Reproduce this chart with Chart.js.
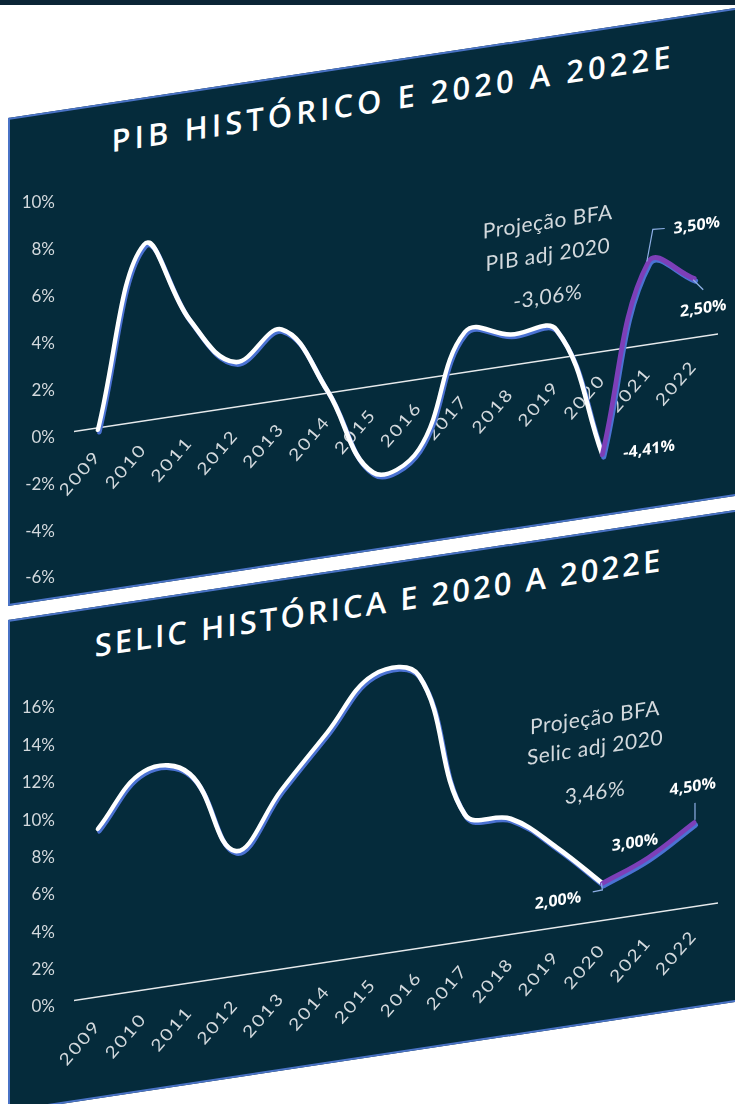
<!DOCTYPE html>
<html lang="pt">
<head>
    <meta charset="UTF-8">
    <title>PIB e Selic histórico e 2020 a 2022E</title>
    <script src="https://cdn.jsdelivr.net/npm/chart.js"></script>
    <style>
        body {
            margin: 0;
            width: 735px;
            height: 1104px;
            overflow: hidden;
            position: relative;
            background: #ffffff;
            font-family: 'Open Sans', sans-serif;
        }
        .topbar {
            position: absolute;
            left: 0;
            top: 0;
            width: 735px;
            height: 5px;
            background: #0b2536;
        }
        .panel {
            position: absolute;
            left: 8px;
            width: 760px;
            box-sizing: border-box;
            background: #052b3b;
            border: 2px solid #4a73c6;
            border-right: none;
            transform: skewY(-8.6deg);
            transform-origin: 0 0;
        }
        #panelPib { top: 118px; height: 488px; }
        #panelSelic { top: 620px; height: 492px; }
        .panel h2 {
            position: absolute;
            top: 21px;
            margin: 0;
            color: #ffffff;
            font: 600 31px/31px 'Open Sans', sans-serif;
            white-space: nowrap;
            transform: translateX(-50%);
        }
        #panelPib h2 { left: 383px; letter-spacing: 4px; }
        #panelSelic h2 { left: 369px; letter-spacing: 3px; }
        canvas { position: absolute; left: 0; }
        #pibChart { top: 0; }
        #selicChart { top: 600px; }
    </style>
</head>
<body>
<div class="topbar"></div>
<div class="panel" id="panelPib"><h2>PIB HISTÓRICO E 2020 A 2022E</h2></div>
<div class="panel" id="panelSelic"><h2>SELIC HISTÓRICA E 2020 A 2022E</h2></div>

<canvas id="pibChart" width="735" height="612"></canvas>
<canvas id="selicChart" width="735" height="504"></canvas>

<script>
    // data
    const years = ['2009', '2010', '2011', '2012', '2013', '2014', '2015',
                   '2016', '2017', '2018', '2019', '2020', '2021', '2022'];

    const pibHistorico = [-0.1, 7.5, 4.0, 1.9, 3.0, 0.1, -3.7, -3.0, 1.7, 1.3, 1.2, -4.41, null, null];
    const pibProjecao  = [null, null, null, null, null, null, null, null, null, null, null, -4.41, 3.5, 2.5];
    const pibTicks = [-6, -4, -2, 0, 2, 4, 6, 8, 10];

    const selicHistorica = [9.0, 11.7, 11.2, 6.7, 9.6, 12.3, 15.0, 14.6, 6.8, 6.2, 4.3, 2.0, null, null];
    const selicProjecao  = [null, null, null, null, null, null, null, null, null, null, null, 2.0, 3.0, 4.5];
    const selicTicks = [0, 2, 4, 6, 8, 10, 12, 14, 16];

    // the whole picture is skewed; y labels stay flat
    const SKEW = 0.1512;
    const SKEW_X0 = 32;
    function skew(ctx) {
        ctx.transform(1, -SKEW, 0, 1, 0, SKEW * SKEW_X0);
    }

    class SkewCategoryScale extends Chart.CategoryScale {
        draw(area) {
            const ctx = this.ctx;
            ctx.save();
            skew(ctx);
            ctx.letterSpacing = '2px';
            super.draw(area);
            ctx.restore();
        }
    }
    SkewCategoryScale.id = 'skewcat';
    SkewCategoryScale.defaults = Chart.CategoryScale.defaults;
    Chart.register(SkewCategoryScale);

    const LIGHT = '#d3d9dd';

    // notes: text placed in data units (category index, value)
    function decor(notes, leaders) {
        return {
            id: 'decor',
            beforeDatasetsDraw(chart) {
                const ctx = chart.ctx;
                ctx.save();
                skew(ctx);
                ctx.shadowColor = '#4b72d3';
                ctx.shadowOffsetX = 1.5;
                ctx.shadowOffsetY = 2.5;
                ctx.shadowBlur = 0.5;
            },
            afterDatasetsDraw(chart) {
                const ctx = chart.ctx;
                ctx.restore();
                const xs = chart.scales.x, ys = chart.scales.y;
                ctx.save();
                skew(ctx);
                leaders.forEach(path => {
                    ctx.beginPath();
                    path.forEach(([i, v], k) => {
                        const px = xs.getPixelForValue(i), py = ys.getPixelForValue(v);
                        if (k) ctx.lineTo(px, py); else ctx.moveTo(px, py);
                    });
                    ctx.strokeStyle = '#8fb0e6';
                    ctx.lineWidth = 1.2;
                    ctx.stroke();
                });
                notes.forEach(n => {
                    ctx.font = n.bold ? "700 16px 'Open Sans'" : "400 21px Lato";
                    ctx.fillStyle = n.bold ? '#ffffff' : LIGHT;
                    ctx.letterSpacing = n.bold ? '0px' : '0.5px';
                    ctx.textAlign = 'center';
                    ctx.textBaseline = 'middle';
                    ctx.fillText(n.text, xs.getPixelForValue(n.i), ys.getPixelForValue(n.v));
                });
                ctx.restore();
            }
        };
    }

    function buildChart(id, hist, proj, ticks, pad, notes, leaders) {
        const ctx = document.getElementById(id).getContext('2d');
        return new Chart(ctx, {
            type: 'line',
            data: {
                labels: years,
                datasets: [
                    {
                        data: proj,
                        borderColor: '#7d3fb8',
                        borderWidth: 5,
                        pointRadius: 0,
                        tension: 0.4,
                        clip: false,
                        borderCapStyle: 'round'
                    },
                    {
                        data: hist,
                        borderColor: '#ffffff',
                        borderWidth: 4.5,
                        pointRadius: 0,
                        tension: 0.4,
                        clip: false,
                        borderCapStyle: 'round'
                    }
                ]
            },
            options: {
                responsive: false,
                animation: false,
                devicePixelRatio: 1,
                layout: { padding: pad },
                plugins: {
                    legend: { display: false },
                    tooltip: { enabled: false }
                },
                scales: {
                    x: {
                        type: 'skewcat',
                        position: { y: 0 },
                        offset: true,
                        grid: { display: false, drawTicks: false },
                        border: { display: true, color: '#e6eaec', width: 1.5 },
                        ticks: {
                            color: LIGHT,
                            font: { family: 'Lato', size: 18 },
                            minRotation: 45,
                            maxRotation: 45,
                            autoSkip: false,
                            padding: 18
                        }
                    },
                    y: {
                        min: ticks[0],
                        max: ticks[ticks.length - 1],
                        afterFit: s => { s.width = 60; },
                        afterBuildTicks: s => { s.ticks = ticks.map(v => ({ value: v })); },
                        grid: { display: false, drawTicks: false },
                        border: { display: false },
                        ticks: {
                            color: LIGHT,
                            font: { family: 'Lato', size: 17 },
                            padding: 20,
                            callback: v => v + '%'
                        }
                    }
                }
            },
            plugins: [decor(notes, leaders)]
        });
    }

    buildChart('pibChart', pibHistorico, pibProjecao, pibTicks,
        { top: 203, bottom: 34, left: 15, right: 18 },
        [
            { text: 'Projeção BFA', i: 9.81, v: 5.86 },
            { text: 'PIB adj 2020', i: 9.81, v: 4.45 },
            { text: '-3,06%', i: 9.81, v: 2.66 },
            { text: '3,50%', i: 13.06, v: 4.74, bold: true },
            { text: '2,50%', i: 13.2, v: 1.16, bold: true },
            { text: '-4,41%', i: 12.02, v: -4.51, bold: true }
        ],
        [
            [[11.97, 3.54], [12.1, 4.87], [12.36, 4.83]],
            [[12.98, 2.46], [13.2, 1.97]]
        ]);

    buildChart('selicChart', selicHistorica, selicProjecao, selicTicks,
        { top: 108, bottom: 97, left: 15, right: 18 },
        [
            { text: 'Projeção BFA', i: 10.84, v: 10.91 },
            { text: 'Selic adj 2020', i: 10.84, v: 9.31 },
            { text: '3,46%', i: 10.84, v: 6.9 },
            { text: '4,50%', i: 12.97, v: 6.42, bold: true },
            { text: '3,00%', i: 11.71, v: 3.9, bold: true },
            { text: '2,00%', i: 10.03, v: 1.42, bold: true }
        ],
        [
            [[13.02, 5.56], [13.02, 4.65]],
            [[10.79, 1.62], [11.0, 1.65], [10.98, 2.03]]
        ]);
</script>
</body>
</html>
